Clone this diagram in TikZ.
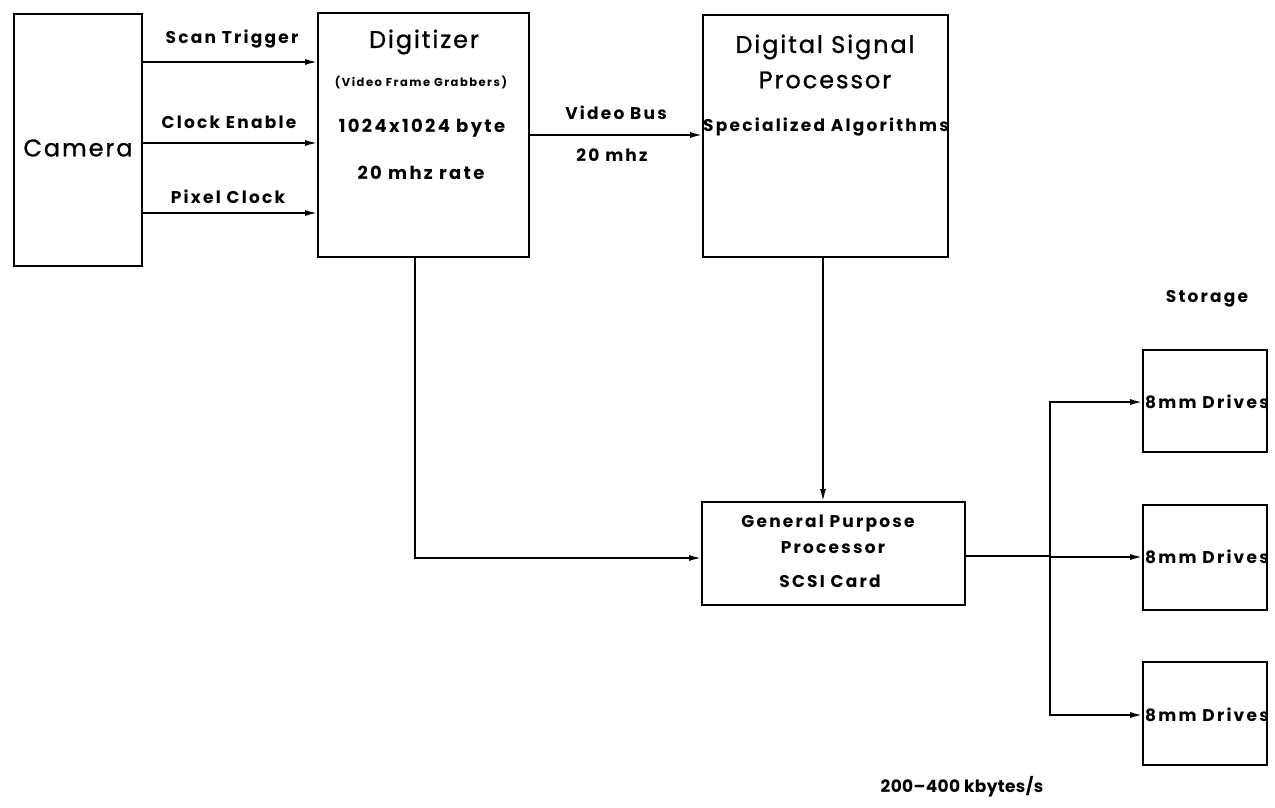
\documentclass[tikz,border=0pt]{standalone}
\usepackage{fontspec}
\setmainfont{Poppins}[LetterSpace=13]
\newfontfamily\bigfont{Poppins}[LetterSpace=8,FakeBold=1]
\newfontfamily\ratefont{Poppins}[LetterSpace=2]
\usetikzlibrary{arrows.meta}
\begin{document}
\begin{tikzpicture}[x=1pt,y=-1pt,
  box/.style={draw,line width=2pt},
  conn/.style={line width=2pt,-{Latex[length=13pt,width=6pt]}},
  wire/.style={line width=2pt},
  lbl/.style={font=\fontsize{17}{20}\selectfont\bfseries,inner sep=0pt},
  dlbl/.style={font=\fontsize{18}{21}\selectfont\bfseries,inner sep=0pt},
  tiny/.style={font=\fontsize{11.5}{13}\selectfont\bfseries,inner sep=0pt},
  big/.style={font=\bigfont\fontsize{24}{28}\selectfont,inner sep=0pt},
]
\useasboundingbox (0,0) rectangle (1275,808);
% Camera
\draw[box] (14,14) rectangle (142,266);
\node[big] (cam) at (78,148) {Camera};
\coordinate (camE1) at (142,62);
\coordinate (camE2) at (142,143);
\coordinate (camE3) at (142,213);
% Digitizer
\draw[box] (318,13) rectangle (529,257);
\node[big] (dig) at (424,42) {Digitizer};
\node[tiny] (vfg) at (421,82) {(Video Frame Grabbers)};
\node[dlbl] (res) at (422,128) {1024x1024 byte};
\node[dlbl] (rate) at (421,173) {20 mhz rate};
\coordinate (digW1) at (318,62);
\coordinate (digW2) at (318,143);
\coordinate (digW3) at (318,213);
\coordinate (digE) at (529,135);
\coordinate (digS) at (415,257);
% DSP
\draw[box] (703,15) rectangle (948,257);
\node[big] (dsp1) at (825,47) {Digital Signal};
\node[big] (dsp2) at (825,80) {Processor};
\node[lbl] (alg) at (826,127) {Specialized Algorithms};
\coordinate (dspW) at (703,135);
\coordinate (dspS) at (823,257);
% GPP
\draw[box] (702,502) rectangle (965,605);
\node[lbl] (gp1) at (828,523) {General Purpose};
\node[lbl] (gp2) at (833,548) {Processor};
\node[lbl] (scsi) at (830,581) {SCSI Card};
\coordinate (gpN) at (823,502);
\coordinate (gpW) at (702,558);
\coordinate (gpE) at (965,556);
% Storage
\node[lbl] (stor) at (1207,299) {Storage};
\foreach \i/\t/\b/\m in {1/350/452/402,2/505/610/557,3/662/765/715}{
  \draw[box] (1143,\t) rectangle (1267,\b);
  \node[lbl,anchor=west] (d\i) at (1145,\m) {8mm Drives};
  \coordinate (dW\i) at (1143,\m);
}
\node[lbl,font=\ratefont\fontsize{17}{20}\selectfont\bfseries] (rate2) at (962,787) {200–400 kbytes/s};
% connectors
\draw[conn] (camE1) -- (digW1);
\draw[conn] (camE2) -- (digW2);
\draw[conn] (camE3) -- (digW3);
\node[lbl] (l1) at (232,39) {Scan Trigger};
\node[lbl] (l2) at (229,122) {Clock Enable};
\node[lbl] (l3) at (228,197) {Pixel Clock};
\draw[conn] (digE) -- (dspW);
\node[lbl] (vb) at (616,113) {Video Bus};
\node[lbl] (vbr) at (612,155) {20 mhz};
\draw[conn] (dspS) -- (gpN);
\draw[conn] (digS) |- (gpW);
\coordinate (br) at (1050,556);
\draw[wire] (gpE) -- (br);
\draw[conn] (br) |- (dW1);
\draw[conn] (br) |- (dW2);
\draw[conn] (br) |- (dW3);
\end{tikzpicture}
\end{document}
